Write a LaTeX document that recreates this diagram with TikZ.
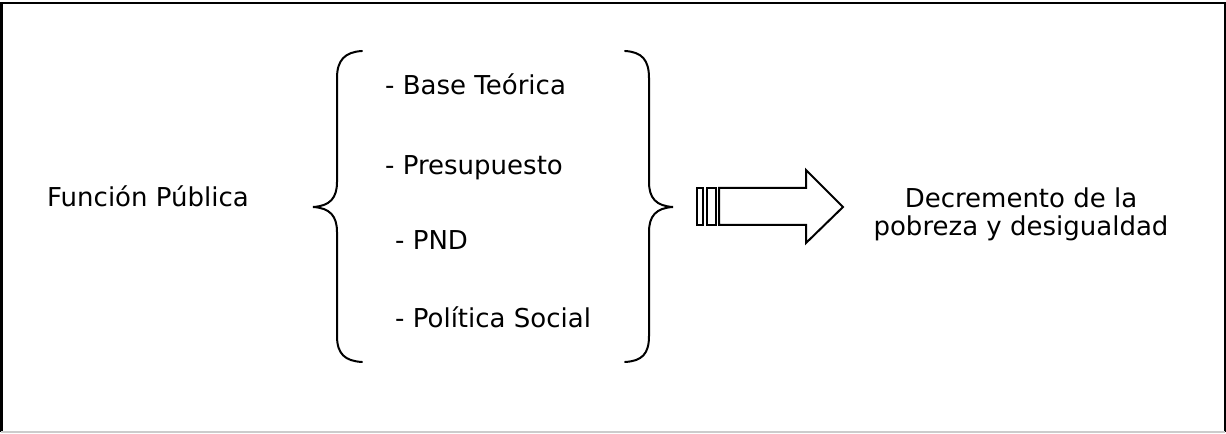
\documentclass[tikz,border=0pt]{standalone}
\usepackage{fontspec}
\setmainfont{DejaVu Sans}
\begin{document}
\begin{tikzpicture}[x=1bp,y=-1bp,
  lbl/.style={anchor=base west,inner sep=0pt,font=\fontsize{26bp}{28bp}\selectfont},
  lblc/.style={anchor=base,inner sep=0pt,font=\fontsize{26bp}{28bp}\selectfont},
  bracepath/.style={draw=black,line width=2bp,line cap=round},
  arrowpart/.style={draw=black,line width=2bp,fill=white,line join=miter}]
\useasboundingbox (0,0) rectangle (1226,434);
% frame
\draw[line width=2bp] (1.5,432.5) -- (1.5,3.5) -- (1224.5,3.5) -- (1224.5,432.5);
\draw[line width=2bp,black!20] (1.5,432.5) -- (1224.5,432.5);
% texts
\node[lbl] (fp) at (47,207) {Función Pública};
\node[lbl] (it1) at (385,95) {- Base Teórica};
\node[lbl] (it2) at (385,175) {- Presupuesto};
\node[lbl] (it3) at (395,250) {- PND};
\node[lbl] (it4) at (395,328) {- Política Social};
\node[lblc] (dec1) at (1021,208) {Decremento de la};
\node[lblc] (dec2) at (1021,236) {pobreza y desigualdad};
% left brace
\draw[bracepath] (362,51) .. controls (345,52) and (337,60) .. (337,78)
  -- (337,182) .. controls (337,198) and (330,206) .. (313,207)
  .. controls (330,208) and (337,216) .. (337,232)
  -- (337,336) .. controls (337,354) and (345,361) .. (362,362);
% right brace
\draw[bracepath] (625,51) .. controls (642,52) and (649,60) .. (649,78)
  -- (649,182) .. controls (649,198) and (656,206) .. (673,207)
  .. controls (656,208) and (649,216) .. (649,232)
  -- (649,336) .. controls (649,354) and (642,361) .. (625,362);
% arrow
\draw[arrowpart] (697,188) rectangle (703,225);
\draw[arrowpart] (707,188) rectangle (716,225);
\draw[arrowpart] (719,188) -- (806,188) -- (806,170) -- (843,207) -- (806,243) -- (806,225) -- (719,225) -- cycle;
\end{tikzpicture}
\end{document}
